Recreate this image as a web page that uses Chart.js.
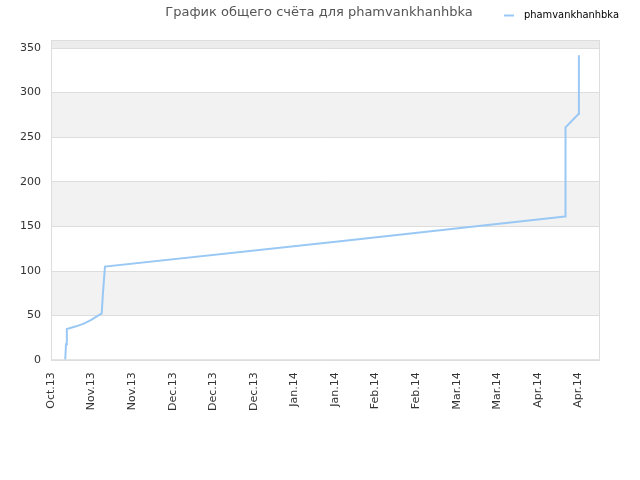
<!DOCTYPE html>
<html>
<head>
<meta charset="utf-8">
<script src="https://cdn.jsdelivr.net/npm/chart.js@4"></script>
<style>
  html, body { margin: 0; padding: 0; background: #fff; }
  #wrap { width: 640px; height: 480px; }
</style>
</head>
<body>
<div id="wrap"><canvas id="myChart" width="640" height="480"></canvas></div>
<script>
(function () {
    "use strict";

    const chartTitle = 'График общего счёта для phamvankhanhbka';
    const seriesName = 'phamvankhanhbka';

    // x tick labels, one per step on the x axis
    const tickLabels = ['Oct.13', 'Nov.13', 'Nov.13', 'Dec.13', 'Dec.13', 'Dec.13', 'Jan.14',
        'Jan.14', 'Feb.14', 'Feb.14', 'Mar.14', 'Mar.14', 'Apr.14', 'Apr.14'];
    const yTicks = [0, 50, 100, 150, 200, 250, 300, 350];

    // points of the score line (x in tick units, y = total score)
    const dayPos = [0.35, 0.37, 0.39, 0.62, 0.81, 0.98, 1.16, 1.25, 1.28, 1.33, 7.13, 10.09, 12.67, 12.68, 13.0, 13.01];
    const scores = [0, 18, 35, 38, 41, 45, 50, 52.5, 75, 105, 133.5, 148.3, 161, 261, 276, 342];

    const xMax = 13.53;
    const yMax = 359;

    // alternating grey bands and box round the plot
    const bandsPlugin = {
        id: 'bands',
        beforeDraw(chart) {
            const ctx = chart.ctx;
            const area = chart.chartArea;
            const y = chart.scales.y;
            ctx.save();
            ctx.fillStyle = '#fff';
            ctx.fillRect(0, 0, chart.width, chart.height);
            for (let v = 50; v < yMax; v += 100) {
                const top = Math.max(y.getPixelForValue(v + 50), area.top);
                const bot = y.getPixelForValue(v);
                ctx.fillStyle = v >= 350 ? '#ececec' : '#f2f2f2';
                ctx.fillRect(area.left, top, area.right - area.left, bot - top);
            }
            ctx.restore();
        },
        afterDraw(chart) {
            const ctx = chart.ctx;
            const area = chart.chartArea;
            ctx.save();
            ctx.strokeStyle = '#dddddd';
            ctx.lineWidth = 1;
            ctx.strokeRect(area.left + 0.5, area.top + 0.5, area.right - area.left - 1, area.bottom - area.top - 1);

            // title
            ctx.fillStyle = '#555555';
            ctx.font = '13px "DejaVu Sans"';
            ctx.textAlign = 'center';
            ctx.textBaseline = 'middle';
            ctx.fillText(chartTitle, 319, 13);

            // legend
            ctx.strokeStyle = chart.data.datasets[0].borderColor;
            ctx.lineWidth = 2;
            ctx.beginPath();
            ctx.moveTo(504, 15.5);
            ctx.lineTo(514, 15.5);
            ctx.stroke();
            ctx.fillStyle = '#000';
            ctx.font = '11px "DejaVu Sans Condensed", "DejaVu Sans"';
            ctx.textAlign = 'left';
            ctx.fillText(seriesName, 524, 15);
            ctx.restore();
        }
    };

    function initChart() {
        const ctx = document.getElementById('myChart').getContext('2d');
        const points = dayPos.map((d, i) => ({ x: d, y: scores[i] }));

        new Chart(ctx, {
            type: 'line',
            data: {
                datasets: [{
                    label: seriesName,
                    data: points,
                    borderColor: '#99c8f4',
                    borderWidth: 2,
                    pointRadius: 0,
                    tension: 0,
                    fill: false
                }]
            },
            options: {
                responsive: false,
                animation: false,
                layout: { padding: { top: 40, right: 40, left: 10, bottom: 65 } },
                plugins: {
                    legend: { display: false },
                    title: { display: false },
                    tooltip: { enabled: false }
                },
                scales: {
                    x: {
                        type: 'linear',
                        min: 0,
                        max: xMax,
                        grid: { display: false },
                        border: { display: false },
                        afterBuildTicks: scale => {
                            scale.ticks = tickLabels.map((t, i) => ({ value: i }));
                        },
                        ticks: {
                            autoSkip: false,
                            minRotation: 90,
                            maxRotation: 90,
                            padding: 4,
                            color: '#333',
                            font: { family: 'DejaVu Sans', size: 11 },
                            callback: v => tickLabels[v]
                        }
                    },
                    y: {
                        min: 0,
                        max: yMax,
                        grid: { color: '#dddddd', drawTicks: false },
                        border: { display: false },
                        afterBuildTicks: scale => {
                            scale.ticks = yTicks.map(v => ({ value: v }));
                        },
                        ticks: {
                            padding: 10,
                            color: '#333',
                            font: { family: 'DejaVu Sans', size: 11 }
                        }
                    }
                }
            },
            plugins: [bandsPlugin]
        });
    }

    document.addEventListener('DOMContentLoaded', initChart);
})();
</script>
</body>
</html>
